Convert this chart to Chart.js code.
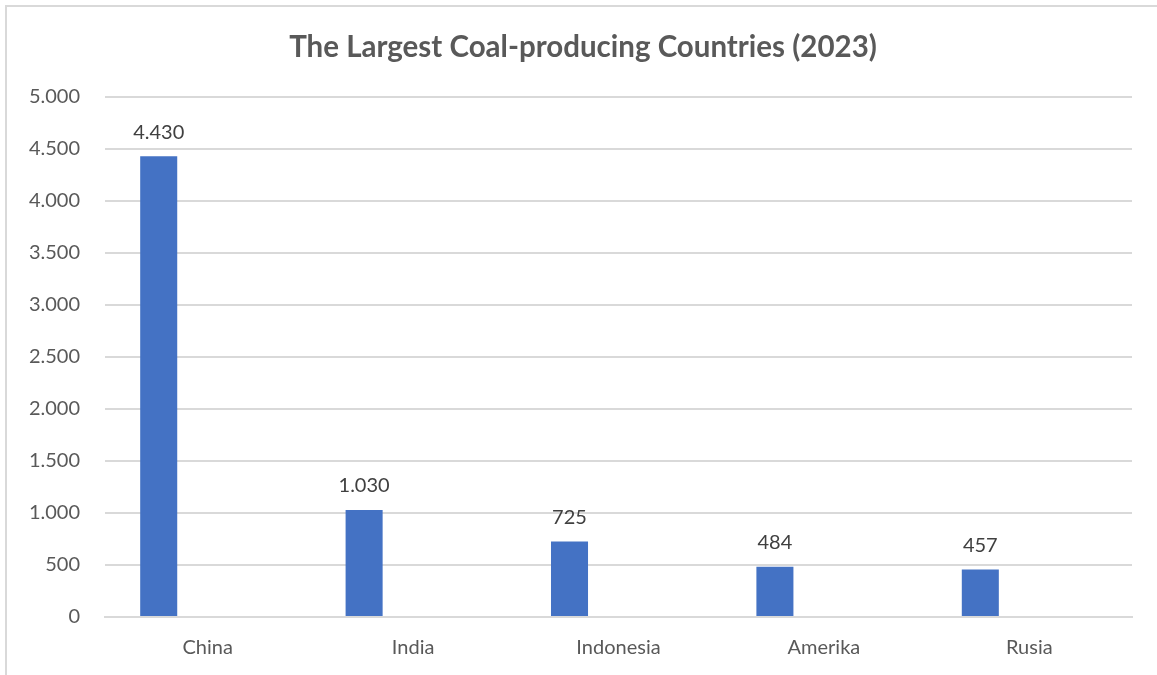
<!DOCTYPE html>
<html>
<head>
<meta charset="utf-8">
<script src="https://cdn.jsdelivr.net/npm/chart.js"></script>
<style>
  body { margin: 0; background: #fff; }
  .frame { position: absolute; left: 5px; top: 5px; width: 1200px; height: 720px; border: 2px solid #d9d9d9; }
  .box { position: absolute; left: 0; top: 0; width: 1157px; height: 675px; }
</style>
</head>
<body>
<div class="frame"></div>
<div class="box"><canvas id="myChart"></canvas></div>
<script>
// Data
const countries = ['China', 'India', 'Indonesia', 'Amerika', 'Rusia'];
const production = [4430, 1030, 725, 484, 457];
const yTicks = [0, 500, 1000, 1500, 2000, 2500, 3000, 3500, 4000, 4500, 5000];
const chartTitle = 'The Largest Coal-producing Countries (2023)';

function fmt(v){
    return v.toLocaleString('de-DE');
}

// labels above bars + title
const barLabels = {
    id: 'barLabels',
    afterDatasetsDraw(chart){
        const ctx = chart.ctx;
        const meta = chart.getDatasetMeta(0);
        ctx.save();
        ctx.font = '20px Lato';
        ctx.fillStyle = '#404040';
        ctx.textAlign = 'center';
        ctx.textBaseline = 'middle';
        meta.data.forEach((bar, i) => {
            ctx.fillText(fmt(production[i]), bar.x, bar.y - 24);
        });
        // title
        ctx.font = 'bold 29.5px Lato';
        ctx.fillStyle = '#595959';
        ctx.fillText(chartTitle, 583, 47);
        ctx.restore();
    }
};

const ctx = document.getElementById('myChart');

new Chart(ctx, {
  type: 'bar',
  data: {
    labels: countries,
    datasets: [
        {
            label: 'Produksi',
            data: production,
            backgroundColor: '#4472c4',
            categoryPercentage: 0.954,
            barPercentage: 0.378
        },
        {
            label: '',
            data: [],
            backgroundColor: '#ed7d31',
            categoryPercentage: 0.954,
            barPercentage: 0.378
        }
    ]
  },
  options: {
    responsive: true,
    maintainAspectRatio: false,
    animation: false,
    layout: { padding: { left: 0, right: 25, top: 97, bottom: 0 } },
    plugins: {
        legend: { display: false },
        tooltip: { enabled: false },
        title: { display: false }
    },
    scales: {
        x: {
            grid: { display: false, drawTicks: false },
            border: { display: true, color: '#d9d9d9', width: 2 },
            ticks: { color: '#595959', font: { family: 'Lato', size: 20 }, padding: 19 },
            afterFit(scale){ scale.height = 58; }
        },
        y: {
            min: 0,
            max: 5000,
            afterBuildTicks(scale){ scale.ticks = yTicks.map(v => ({ value: v })); },
            grid: { color: '#d9d9d9', lineWidth: 2, drawTicks: false },
            border: { display: false },
            ticks: {
                color: '#595959',
                font: { family: 'Lato', size: 20 },
                padding: 25,
                callback: (v) => fmt(v)
            },
            afterFit(scale){ scale.width = 105; }
        }
    }
  },
  plugins: [barLabels]
});
</script>
</body>
</html>
